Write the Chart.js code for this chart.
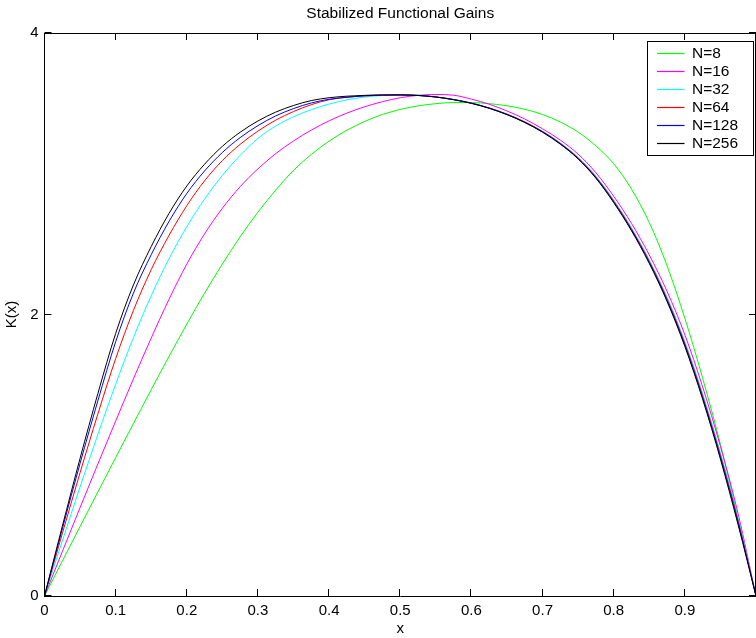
<!DOCTYPE html>
<html>
<head>
<meta charset="utf-8">
<script src="https://cdn.jsdelivr.net/npm/chart.js@4"></script>
<style>
html,body{margin:0;padding:0;overflow:hidden;background:#fff;width:756px;height:638px}
canvas{display:block}
</style>
</head>
<body>
<canvas id="c" width="762" height="638" style="width:762px;height:638px"></canvas>
<script>
// ---- data ----
const titleText = 'Stabilized Functional Gains';
const xTitle = 'x';
const yTitle = 'K(x)';
const seriesLabels = ['N=8', 'N=16', 'N=32', 'N=64', 'N=128', 'N=256'];
const seriesColors = ['#00ff00', '#ff00ff', '#00ffff', '#ff0000', '#0000ff', '#000000'];
const xTickValues = [0, 0.1, 0.2, 0.3, 0.4, 0.5, 0.6, 0.7, 0.8, 0.9, 1];
const xTickLabels = ['0', '0.1', '0.2', '0.3', '0.4', '0.5', '0.6', '0.7', '0.8', '0.9', ''];
const yTickValues = [0, 2, 4];
const yTickLabels = ['0', '2', '4'];

const xValues = [0, 0.025, 0.05, 0.075, 0.1, 0.125, 0.15, 0.175, 0.2, 0.225,
  0.25, 0.275, 0.3, 0.325, 0.35, 0.375, 0.4, 0.425, 0.45, 0.475,
  0.5, 0.525, 0.55, 0.575, 0.6, 0.625, 0.65, 0.675, 0.7, 0.725,
  0.75, 0.775, 0.8, 0.825, 0.85, 0.875, 0.9, 0.925, 0.95, 0.975, 1];
const kN8 = [0, 0.248, 0.494, 0.739, 0.983, 1.226, 1.466, 1.702, 1.932, 2.152,
  2.359, 2.552, 2.727, 2.884, 3.024, 3.137, 3.232, 3.309, 3.372, 3.421,
  3.457, 3.482, 3.498, 3.506, 3.506, 3.498, 3.483, 3.458, 3.421, 3.368,
  3.296, 3.198, 3.071, 2.891, 2.653, 2.346, 1.973, 1.548, 1.078, 0.55, 0];
const kN16 = [0, 0.315, 0.628, 0.938, 1.243, 1.543, 1.833, 2.108, 2.358, 2.573,
  2.755, 2.908, 3.035, 3.143, 3.233, 3.31, 3.376, 3.431, 3.476, 3.512,
  3.54, 3.557, 3.563, 3.558, 3.53, 3.494, 3.446, 3.389, 3.319, 3.239,
  3.139, 3.007, 2.84, 2.647, 2.423, 2.164, 1.856, 1.486, 1.063, 0.581, 0];
const kN32 = [0, 0.391, 0.775, 1.148, 1.504, 1.836, 2.134, 2.396, 2.624, 2.82,
  2.988, 3.131, 3.251, 3.339, 3.405, 3.455, 3.495, 3.525, 3.545, 3.556,
  3.56, 3.559, 3.547, 3.528, 3.503, 3.469, 3.425, 3.37, 3.303, 3.22,
  3.117, 2.983, 2.814, 2.617, 2.388, 2.123, 1.808, 1.438, 1.018, 0.551, 0];
const kN64 = [0, 0.443, 0.876, 1.293, 1.686, 2.029, 2.319, 2.562, 2.773, 2.95,
  3.094, 3.209, 3.303, 3.381, 3.442, 3.491, 3.526, 3.544, 3.553, 3.558,
  3.56, 3.557, 3.546, 3.527, 3.502, 3.467, 3.423, 3.368, 3.3, 3.216,
  3.112, 2.977, 2.806, 2.608, 2.378, 2.111, 1.794, 1.422, 1.0, 0.532, 0];
const kN128 = [0, 0.476, 0.942, 1.387, 1.806, 2.152, 2.425, 2.661, 2.86, 3.02,
  3.151, 3.257, 3.342, 3.411, 3.463, 3.503, 3.529, 3.543, 3.554, 3.559,
  3.56, 3.556, 3.545, 3.527, 3.501, 3.466, 3.421, 3.366, 3.297, 3.213,
  3.108, 2.972, 2.8, 2.601, 2.37, 2.101, 1.783, 1.409, 0.986, 0.517, 0];
const kN256 = [0, 0.495, 0.978, 1.438, 1.865, 2.21, 2.483, 2.718, 2.913, 3.068,
  3.195, 3.295, 3.375, 3.438, 3.485, 3.52, 3.54, 3.551, 3.557, 3.56,
  3.56, 3.556, 3.545, 3.526, 3.5, 3.465, 3.42, 3.364, 3.295, 3.21,
  3.105, 2.968, 2.795, 2.595, 2.363, 2.093, 1.773, 1.398, 0.973, 0.503, 0];
const seriesValues = [kN8, kN16, kN32, kN64, kN128, kN256];

// ---- chart ----
const FONT = "'Liberation Sans', Arial, Helvetica, sans-serif";

const datasets = seriesValues.map((vals, i) => ({
  label: seriesLabels[i],
  data: vals.map((v, j) => ({ x: xValues[j], y: v })),
  borderColor: seriesColors[i],
  backgroundColor: seriesColors[i],
  borderWidth: 1,
  pointRadius: 0,
  fill: false,
  cubicInterpolationMode: 'monotone',
  order: seriesValues.length - 1 - i
}));

const framePlugin = {
  id: 'frameTicksLegend',
  afterDraw(chart) {
    const ctx = chart.ctx;
    const a = chart.chartArea;
    const xs = chart.scales.x, ys = chart.scales.y;
    const TL = 7;
    ctx.save();
    ctx.strokeStyle = '#000';
    ctx.lineWidth = 1;
    // top and right frame
    ctx.beginPath();
    const topY = Math.round(a.top) + 0.5;
    const rightX = Math.round(a.right) - 0.5;
    ctx.moveTo(Math.round(a.left), topY); ctx.lineTo(a.right + 1, topY);
    ctx.moveTo(rightX, a.top); ctx.lineTo(rightX, a.bottom);
    ctx.stroke();
    // inward ticks
    ctx.beginPath();
    xs.ticks.forEach(t => {
      const px = Math.round(xs.getPixelForValue(t.value)) - 0.5;
      ctx.moveTo(px, a.bottom); ctx.lineTo(px, a.bottom - TL);
      ctx.moveTo(px, a.top); ctx.lineTo(px, a.top + TL);
    });
    ys.ticks.forEach(t => {
      const py = Math.round(ys.getPixelForValue(t.value)) - 0.5;
      ctx.moveTo(a.left, py); ctx.lineTo(a.left + TL, py);
      ctx.moveTo(a.right, py); ctx.lineTo(a.right - TL, py);
    });
    ctx.stroke();
    // legend box
    const bw = 106, bh = 114;
    const bx = Math.round(a.right - 3.5 - bw) + 0.5;
    const by = Math.round(a.top + 8) + 0.5;
    ctx.fillStyle = '#fff';
    ctx.fillRect(bx, by, bw, bh);
    ctx.strokeStyle = '#000';
    ctx.strokeRect(bx, by, bw, bh);
    ctx.font = '15.5px ' + FONT;
    ctx.textBaseline = 'middle';
    ctx.textAlign = 'left';
    seriesLabels.forEach((lab, i) => {
      const y = Math.round(by + 11.2 + 18 * i) + 0.5;
      ctx.lineWidth = 1.2;
      ctx.strokeStyle = seriesColors[i];
      ctx.beginPath();
      ctx.moveTo(bx + 9.5, y); ctx.lineTo(bx + 37, y);
      ctx.stroke();
      ctx.fillStyle = '#000';
      ctx.fillText(lab, bx + 44.5, y);
    });
    ctx.restore();
  }
};

new Chart(document.getElementById('c'), {
  type: 'line',
  data: { datasets },
  plugins: [framePlugin],
  options: {
    responsive: false,
    animation: false,
    devicePixelRatio: 1,
    layout: { padding: { left: 0, right: 3.5, top: 0, bottom: 0 } },
    plugins: {
      legend: { display: false },
      tooltip: { enabled: false },
      title: {
        display: true, text: titleText, fullSize: false, color: '#000',
        font: { family: FONT, size: 15.5, weight: 'normal' },
        padding: { top: 4, bottom: 10.4 }
      }
    },
    scales: {
      x: {
        type: 'linear', min: 0, max: 1,
        afterFit(s) { s.height = 42; },
        afterBuildTicks(s) { s.ticks = xTickValues.map(v => ({ value: v })); },
        grid: { display: false, drawTicks: false },
        border: { display: true, color: '#000', width: 1 },
        ticks: {
          padding: 6, color: '#000', maxRotation: 0, autoSkip: false,
          font: { family: FONT, size: 15 },
          callback: (v, i) => xTickLabels[i]
        },
        title: {
          display: true, text: xTitle, color: '#000',
          font: { family: FONT, size: 15 }, padding: { top: 0, bottom: 0 }
        }
      },
      y: {
        type: 'linear', min: 0, max: 4,
        afterFit(s) { s.width = 44.5; },
        afterBuildTicks(s) { s.ticks = yTickValues.map(v => ({ value: v })); },
        grid: { display: false, drawTicks: false },
        border: { display: true, color: '#000', width: 1 },
        ticks: {
          padding: 6, color: '#000',
          font: { family: FONT, size: 15 },
          callback: (v, i) => yTickLabels[i]
        },
        title: {
          display: true, text: yTitle, color: '#000',
          font: { family: FONT, size: 15 }, padding: { top: 3, bottom: 0 }
        }
      }
    }
  }
});
</script>
</body>
</html>
